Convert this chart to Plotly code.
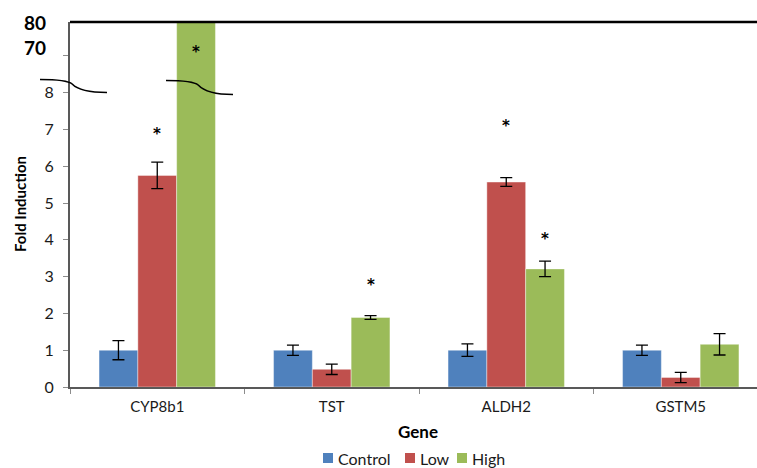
import plotly.graph_objects as go

# ---------------- data ----------------
genes = ["CYP8b1", "TST", "ALDH2", "GSTM5"]
series_names = ["Control", "Low", "High"]
control = [1.0, 1.0, 1.0, 1.0]
control_err = [0.26, 0.14, 0.17, 0.14]
low = [5.75, 0.48, 5.57, 0.26]
low_err = [0.36, 0.14, 0.12, 0.14]
high = [80.0, 1.89, 3.21, 1.16]
high_err = [0.0, 0.05, 0.21, 0.29]
# significance markers: (gene, series, label height on the axis)
stars = [("CYP8b1", "Low", 6.87), ("CYP8b1", "High", 9.1),
         ("TST", "High", 2.77), ("ALDH2", "Low", 7.09), ("ALDH2", "High", 4.01)]
ytick_vals = [0, 1, 2, 3, 4, 5, 6, 7, 8]
upper_labels = [70, 80]

colors = {"Control": "#4F81BD", "Low": "#C0504D", "High": "#9BBB59"}

# broken axis: 0..8.5 shown linearly; 70..80 compressed above the break
Y_TOP = 9.92
def to_axis(v):
    if v <= 8.5:
        return v
    return 9.24 + (v - 70) * (Y_TOP - 9.24) / 10.0

W, H = 757, 468
L, R, T, B = 70, 0, 22, 81
PW, PH = W - L - R, H - T - B

def px(x):
    return (x - L) / PW

def py(y):
    return (H - B - y) / PH

FONT = "Lato, 'Open Sans', sans-serif"
TXT = "#1a1a1a"

fig = go.Figure()
for name, vals, errs in [("Control", control, control_err),
                         ("Low", low, low_err),
                         ("High", high, high_err)]:
    fig.add_trace(go.Bar(
        name=name, x=genes, y=[to_axis(v) for v in vals],
        marker=dict(color=colors[name], line=dict(color="rgba(255,255,255,0.5)", width=0.8)),
        error_y=dict(type="data", array=errs, visible=True,
                     color="#000000", thickness=1.3, width=6),
        offsetgroup=name, showlegend=False, hoverinfo="skip",
    ))

# asterisks
offsets = {"Control": -1, "Low": 0, "High": 1}
bar_w = (1 - 0.333) / 3
for g, s, yv in stars:
    gi = genes.index(g)
    fig.add_annotation(x=gi + offsets[s] * bar_w, y=yv, xref="x", yref="y",
                       xanchor="center", yanchor="middle",
                       text="<b>*</b>", showarrow=False,
                       font=dict(family="DejaVu Sans", size=15, color="#000"))

# upper axis labels (above break)
for lab in upper_labels:
    fig.add_annotation(x=px(48), y=to_axis(lab), xref="paper", yref="y",
                       xanchor="right", yanchor="middle", text=f"<b>{lab}</b>",
                       showarrow=False, font=dict(family=FONT, size=19, color="#000"))

# axis titles
fig.add_annotation(x=px(418), y=py(431), xref="paper", yref="paper",
                   xanchor="center", yanchor="middle",
                   text="<b>Gene</b>", showarrow=False,
                   font=dict(family=FONT, size=17, color="#000"))
fig.add_annotation(x=px(20), y=py(204), xref="paper", yref="paper",
                   xanchor="center", yanchor="middle",
                   text="<b>Fold Induction</b>", showarrow=False, textangle=-90,
                   font=dict(family=FONT, size=15, color="#000"))

# manual legend
legend_x = {"Control": 323, "Low": 405, "High": 457}
for name in series_names:
    x0 = legend_x[name]
    fig.add_shape(type="rect", x0=px(x0), x1=px(x0 + 10), y0=py(453), y1=py(463),
                  xref="paper", yref="paper", fillcolor=colors[name], line=dict(width=0))
    fig.add_annotation(x=px(x0 + 13), y=py(458), xref="paper", yref="paper",
                       xanchor="left", yanchor="middle", text=name, showarrow=False,
                       font=dict(family=FONT, size=16, color=TXT))

# break marks
def curve(x0, y0, x1, y1):
    dx = x1 - x0
    p = [(x0, y0), (x0 + 0.27 * dx, y0), (x0 + 0.42 * dx, y0 + 1),
         (x0 + 0.48 * dx, y0 + 4.5),
         (x0 + 0.55 * dx, y0 + 9.5), (x0 + 0.7 * dx, y1), (x1, y1)]
    s = f"M {px(p[0][0])},{py(p[0][1])} C {px(p[1][0])},{py(p[1][1])} {px(p[2][0])},{py(p[2][1])} {px(p[3][0])},{py(p[3][1])}"
    s += f" C {px(p[4][0])},{py(p[4][1])} {px(p[5][0])},{py(p[5][1])} {px(p[6][0])},{py(p[6][1])}"
    return s

for (x0, y0, x1, y1) in [(40, 79.5, 107, 92.5), (166, 80.5, 233, 94.5)]:
    fig.add_shape(type="path", path=curve(x0, y0, x1, y1), xref="paper", yref="paper",
                  line=dict(color="#000", width=1.6), layer="above")

# top border
fig.add_shape(type="line", x0=0, x1=1, y0=1, y1=1, xref="paper", yref="paper",
              line=dict(color="#000", width=2.5), layer="above")

fig.update_layout(
    width=W, height=H,
    margin=dict(l=L, r=R, t=T, b=B, autoexpand=False),
    paper_bgcolor="white", plot_bgcolor="white",
    barmode="group", bargap=0.333, bargroupgap=0,
    font=dict(family=FONT, size=14, color=TXT),
    showlegend=False,
)
fig.update_xaxes(
    range=[-0.5, -0.5 + PW / 174.5], showgrid=False, showline=True, automargin=False,
    linecolor="#595959", linewidth=2, ticks="outside", ticklen=5, tickcolor="#8c8c8c",
    tickson="boundaries", tickfont=dict(family=FONT, size=15, color=TXT), fixedrange=True,
    ticklabelstandoff=5,
)
fig.update_yaxes(
    range=[0, Y_TOP], showgrid=False, showline=True, automargin=False,
    linecolor="#595959", linewidth=2,
    ticks="outside", ticklen=5, tickcolor="#8c8c8c",
    tickvals=ytick_vals + [9],
    ticktext=[str(v) for v in ytick_vals] + [""],
    tickfont=dict(family=FONT, size=16, color=TXT), zeroline=False,
    ticklabelstandoff=6,
)

fig.write_html("out.html", config={"displayModeBar": False},
               post_script="document.body.style.margin='0px';")
